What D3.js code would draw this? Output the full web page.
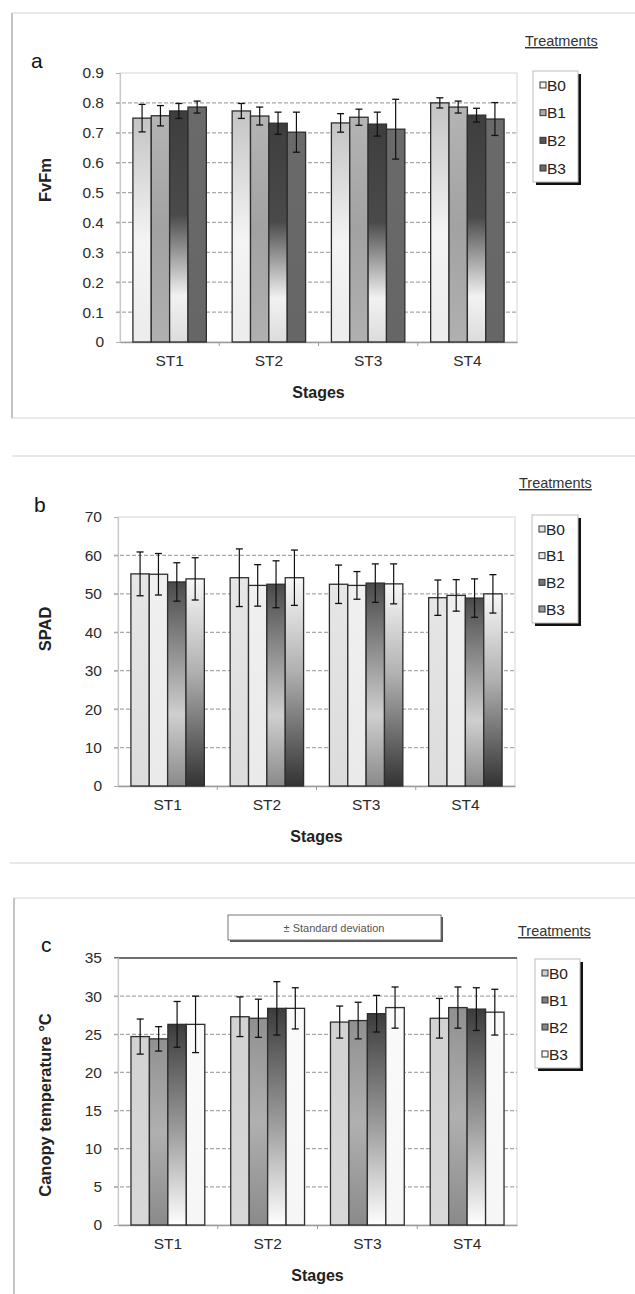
<!DOCTYPE html>
<html>
<head>
<meta charset="utf-8">
<script src="https://cdn.jsdelivr.net/npm/d3@7"></script>
<style>
  body { margin: 0; background: #fff; }
  svg { display: block; font-family: "Liberation Sans", Arial, sans-serif; }
</style>
</head>
<body>
<svg id="chart" width="635" height="1294"></svg>
<script>
// Shared categories
const stages = ['ST1', 'ST2', 'ST3', 'ST4'];
const treatments = ['B0', 'B1', 'B2', 'B3'];

// Panel a: FvFm, rows = stages, columns = treatments
const fvfmMean = [
  [0.749, 0.757, 0.773, 0.786],
  [0.773, 0.756, 0.732, 0.702],
  [0.733, 0.752, 0.729, 0.712],
  [0.800, 0.786, 0.759, 0.746]
];
const fvfmSd = [
  [0.046, 0.034, 0.025, 0.020],
  [0.025, 0.030, 0.037, 0.067],
  [0.031, 0.027, 0.040, 0.100],
  [0.017, 0.020, 0.023, 0.055]
];
const fvfmTicks = [0, 0.1, 0.2, 0.3, 0.4, 0.5, 0.6, 0.7, 0.8, 0.9];

// Panel b: SPAD
const spadMean = [
  [55.2, 55.1, 53.1, 53.9],
  [54.2, 52.2, 52.5, 54.2],
  [52.5, 52.2, 52.8, 52.6],
  [49.0, 49.6, 48.9, 50.0]
];
const spadSd = [
  [5.7, 5.4, 5.0, 5.5],
  [7.5, 5.4, 6.1, 7.2],
  [5.0, 3.6, 5.0, 5.2],
  [4.6, 4.1, 5.0, 5.0]
];
const spadTicks = [0, 10, 20, 30, 40, 50, 60, 70];

// Panel c: canopy temperature
const tempMean = [
  [24.7, 24.4, 26.3, 26.3],
  [27.3, 27.1, 28.4, 28.4],
  [26.6, 26.8, 27.7, 28.5],
  [27.1, 28.5, 28.3, 27.9]
];
const tempSd = [
  [2.3, 1.6, 3.0, 3.7],
  [2.6, 2.5, 3.5, 2.7],
  [2.1, 2.4, 2.4, 2.7],
  [2.6, 2.7, 2.8, 3.0]
];
const tempTicks = [0, 5, 10, 15, 20, 25, 30, 35];

const svg = d3.select('#chart');
const defs = svg.append('defs');

// vertical gradient fills, one set per panel
function gradient(id, stops) {
  const lg = defs.append('linearGradient')
    .attr('id', id).attr('x1', 0).attr('y1', 0).attr('x2', 0).attr('y2', 1);
  stops.forEach(([o, c]) => lg.append('stop').attr('offset', o).attr('stop-color', c));
  return `url(#${id})`;
}

const fillsA = [
  gradient('a0', [[0, '#c4c4c4'], [0.55, '#f4f4f4'], [1, '#ececec']]),
  gradient('a1', [[0, '#b4b4b4'], [0.5, '#a2a2a2'], [1, '#b0b0b0']]),
  gradient('a2', [[0, '#3e3e3e'], [0.45, '#4a4a4a'], [0.8, '#f2f2f2'], [1, '#dcdcdc']]),
  gradient('a3', [[0, '#6a6a6a'], [1, '#666666']])
];
const fillsB = [
  gradient('b0', [[0, '#e6e6e6'], [1, '#dcdcdc']]),
  gradient('b1', [[0, '#f0f0f0'], [1, '#eaeaea']]),
  gradient('b2', [[0, '#4a4a4a'], [0.65, '#cfcfcf'], [1, '#8a8a8a']]),
  gradient('b3', [[0, '#f8f8f8'], [0.45, '#b0b0b0'], [1, '#333333']])
];
const fillsC = [
  gradient('c0', [[0, '#d2d2d2'], [1, '#d8d8d8']]),
  gradient('c1', [[0, '#909090'], [0.5, '#b0b0b0'], [1, '#8a8a8a']]),
  gradient('c2', [[0, '#3c3c3c'], [0.55, '#a0a0a0'], [1, '#ffffff']]),
  gradient('c3', [[0, '#fafafa'], [1, '#f6f6f6']])
];
const swatchA = ['#f4f4f4', '#a8a8a8', '#555555', '#6a6a6a'];
const swatchB = ['#e4e4e4', '#ececec', '#777777', '#999999'];
const swatchC = ['#d0d0d0', '#808080', '#888888', '#fafafa'];

const FONT = '"Liberation Sans", Arial, sans-serif';

function drawPanel(p) {
  const { mean, sd, ticks, fills, swatches } = p;
  const [x0px, x1px] = p.xRange;
  const yMax = ticks[ticks.length - 1];

  const x = d3.scaleBand().domain(stages).range([x0px, x1px])
    .paddingInner(0.26).paddingOuter(0.13);
  const xs = d3.scaleBand().domain(treatments).range([0, x.bandwidth()]);
  const y = d3.scaleLinear().domain([0, yMax]).range([p.zeroY, p.topY]);

  const g = svg.append('g');

  // plot area border
  g.append('rect')
    .attr('x', x0px).attr('y', y(yMax))
    .attr('width', x1px - x0px).attr('height', y(0) - y(yMax))
    .attr('fill', 'none').attr('stroke', '#dcdcdc').attr('stroke-width', 1.2);

  // gridlines
  g.selectAll('.grid')
    .data(ticks.filter(t => t > 0 && t < yMax))
    .enter().append('line')
    .attr('x1', x0px - 4).attr('x2', x1px)
    .attr('y1', d => y(d)).attr('y2', d => y(d))
    .attr('stroke', '#a8a8a8').attr('stroke-width', 1.3)
    .attr('stroke-dasharray', '4,2');

  if (p.solidTop) {
    g.append('line')
      .attr('x1', x0px - 4).attr('x2', x1px)
      .attr('y1', y(yMax)).attr('y2', y(yMax))
      .attr('stroke', '#707070').attr('stroke-width', 2);
  }

  // y axis
  const ya = g.append('g')
    .attr('transform', `translate(${x0px},0)`)
    .call(d3.axisLeft(y).tickValues(ticks).tickSize(4).tickPadding(12)
      .tickFormat(d => String(d)));
  ya.select('.domain').attr('stroke', '#c8c8c8').attr('stroke-width', 1.2);
  ya.selectAll('.tick line').attr('stroke', '#b0b0b0');
  ya.selectAll('.tick text').attr('font-size', 15.5).attr('fill', '#2a2a2a')
    .attr('font-family', FONT);

  // x axis
  const xa = g.append('g')
    .attr('transform', `translate(0,${y(0)})`)
    .call(d3.axisBottom(x).tickSize(0).tickPadding(13));
  xa.select('.domain').attr('stroke', '#9a9a9a').attr('stroke-width', 1.4);
  xa.selectAll('.tick text').attr('font-size', 15.5).attr('fill', '#2a2a2a')
    .attr('font-family', FONT);
  // boundary ticks between categories
  g.selectAll('.sep')
    .data(stages.slice(1))
    .enter().append('line')
    .attr('x1', d => x(d) - x.step() * x.paddingInner() / 2)
    .attr('x2', d => x(d) - x.step() * x.paddingInner() / 2)
    .attr('y1', y(0)).attr('y2', y(0) + 4)
    .attr('stroke', '#9a9a9a');

  // bars
  const groups = g.selectAll('.stage')
    .data(stages)
    .enter().append('g')
    .attr('transform', d => `translate(${x(d)},0)`);

  groups.each(function (stage, si) {
    const sg = d3.select(this);
    treatments.forEach((t, ti) => {
      const v = mean[si][ti];
      sg.append('rect')
        .attr('x', xs(t)).attr('y', y(v))
        .attr('width', xs.bandwidth()).attr('height', y(0) - y(v))
        .attr('fill', fills[ti])
        .attr('stroke', '#2e2e2e').attr('stroke-width', 1.3);
    });
    treatments.forEach((t, ti) => {
      const v = mean[si][ti], e = sd[si][ti];
      const cx = xs(t) + xs.bandwidth() / 2;
      sg.append('line')
        .attr('x1', cx).attr('x2', cx)
        .attr('y1', y(v + e)).attr('y2', y(v - e))
        .attr('stroke', '#111').attr('stroke-width', 1.2);
      [v + e, v - e].forEach(val => {
        sg.append('line')
          .attr('x1', cx - 3.5).attr('x2', cx + 3.5)
          .attr('y1', y(val)).attr('y2', y(val))
          .attr('stroke', '#111').attr('stroke-width', 1.3);
      });
    });
  });

  // axis titles
  g.append('text')
    .attr('x', (x0px + x1px) / 2).attr('y', y(0) + 56)
    .attr('text-anchor', 'middle').attr('font-size', 16)
    .attr('font-weight', 'bold').attr('fill', '#222')
    .text('Stages');

  g.append('text')
    .attr('transform', `translate(${p.yTitleX},${p.yTitleY}) rotate(-90)`)
    .attr('text-anchor', 'middle').attr('font-size', 16.5)
    .attr('font-weight', 'bold').attr('fill', '#222')
    .text(p.yTitle);

  // panel letter
  g.append('text')
    .attr('x', p.letterX).attr('y', p.letterY)
    .attr('font-size', 21).attr('fill', '#111')
    .text(p.letter);

  // legend
  const L = p.legend;
  g.append('text')
    .attr('x', L.titleX).attr('y', L.titleY)
    .attr('font-size', 14.5).attr('fill', '#333')
    .attr('text-decoration', 'underline')
    .text('Treatments');
  g.append('rect')
    .attr('x', L.x + 3).attr('y', L.y + 3)
    .attr('width', L.w).attr('height', L.h)
    .attr('fill', '#111');
  g.append('rect')
    .attr('x', L.x).attr('y', L.y)
    .attr('width', L.w).attr('height', L.h)
    .attr('fill', '#fff').attr('stroke', '#bdbdbd');
  const rowH = (L.h - 28) / (treatments.length - 1);
  treatments.forEach((t, ti) => {
    const cy = L.y + 14 + rowH * ti;
    g.append('rect')
      .attr('x', L.x + 7).attr('y', cy - 3)
      .attr('width', 6).attr('height', 6)
      .attr('fill', swatches[ti]).attr('stroke', '#333').attr('stroke-width', 1);
    g.append('text')
      .attr('x', L.x + 14).attr('y', cy + 5.5)
      .attr('font-size', 15.5).attr('fill', '#222')
      .text(t);
  });
}

// panel frames
svg.append('rect').attr('x', 12).attr('y', 13).attr('width', 640).attr('height', 405)
  .attr('fill', 'none').attr('stroke', '#e2e2e2').attr('stroke-width', 1.5);
svg.append('line').attr('x1', 12).attr('x2', 12).attr('y1', 13).attr('y2', 418)
  .attr('stroke', '#c4c4c4').attr('stroke-width', 2);
svg.append('line').attr('x1', 12).attr('x2', 635).attr('y1', 456).attr('y2', 456)
  .attr('stroke', '#e0e0e0').attr('stroke-width', 1.5);
svg.append('line').attr('x1', 10).attr('x2', 635).attr('y1', 863).attr('y2', 863)
  .attr('stroke', '#e0e0e0').attr('stroke-width', 1.5);
svg.append('line').attr('x1', 14).attr('x2', 635).attr('y1', 898).attr('y2', 898)
  .attr('stroke', '#e2e2e2').attr('stroke-width', 1.5);
svg.append('line').attr('x1', 14).attr('x2', 14).attr('y1', 898).attr('y2', 1294)
  .attr('stroke', '#c4c4c4').attr('stroke-width', 2);

drawPanel({
  mean: fvfmMean, sd: fvfmSd, ticks: fvfmTicks, fills: fillsA, swatches: swatchA,
  xRange: [120, 517], zeroY: 342, topY: 73,
  yTitle: 'FvFm', yTitleX: 51, yTitleY: 180,
  letter: 'a', letterX: 31, letterY: 68,
  legend: { x: 533, y: 71, w: 45, h: 111, titleX: 525, titleY: 46 }
});

drawPanel({
  mean: spadMean, sd: spadSd, ticks: spadTicks, fills: fillsB, swatches: swatchB,
  xRange: [118, 515], zeroY: 786, topY: 517,
  yTitle: 'SPAD', yTitleX: 51, yTitleY: 629,
  letter: 'b', letterX: 34, letterY: 512,
  legend: { x: 532, y: 515, w: 46, h: 108, titleX: 519, titleY: 488 }
});

drawPanel({
  mean: tempMean, sd: tempSd, ticks: tempTicks, fills: fillsC, swatches: swatchC,
  xRange: [118, 517], zeroY: 1225, topY: 958, solidTop: true,
  yTitle: 'Canopy temperature °C', yTitleX: 51, yTitleY: 1105,
  letter: 'c', letterX: 41, letterY: 952,
  legend: { x: 535, y: 959, w: 45, h: 109, titleX: 518, titleY: 936 }
});

// standard deviation note box (panel c)
svg.append('rect').attr('x', 230).attr('y', 917).attr('width', 213).attr('height', 25)
  .attr('fill', '#555');
svg.append('rect').attr('x', 228).attr('y', 915).attr('width', 213).attr('height', 25)
  .attr('fill', '#fff').attr('stroke', '#777');
svg.append('text').attr('x', 334).attr('y', 932)
  .attr('text-anchor', 'middle').attr('font-size', 11).attr('fill', '#555')
  .text('± Standard deviation');
</script>
</body>
</html>
